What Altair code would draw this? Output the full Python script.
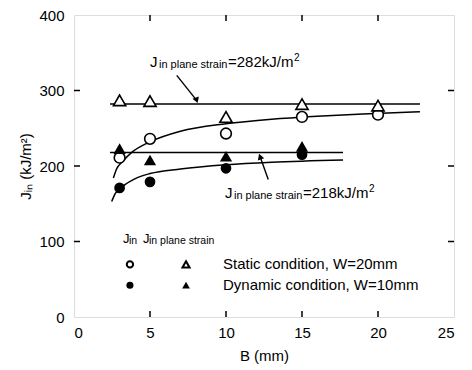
import altair as alt
import pandas as pd

FONT = "Liberation Sans"

# ---- data ----
B_static_tri = [3, 5, 10, 15, 20]
J_static_tri = [287, 286, 265, 282, 280]
B_static_cir = [3, 5, 10, 15, 20]
J_static_cir = [211, 236, 243, 265, 268]
B_dyn_tri = [3, 5, 10, 15]
J_dyn_tri = [223, 208, 213, 226]
B_dyn_cir = [3, 5, 10, 15]
J_dyn_cir = [171, 179, 197, 215]

static_fit_B = [2.59, 2.8, 3.2, 3.8, 5, 7, 10, 13, 16, 19, 22.76]
static_fit_J = [184, 196, 206, 218, 232, 246, 256, 262, 266, 269, 272]
dyn_fit_B = [2.48, 2.7, 3.2, 4, 5, 7, 10, 13, 17.7]
dyn_fit_J = [153, 163, 173, 183, 190, 196, 201.6, 205, 208]

plane_strain_J = [282, 218]
plane_strain_B_start = [2.37, 2.37]
plane_strain_B_end = [22.76, 17.7]

x_ticks = [5, 10, 15, 20]
y_ticks = [100, 200, 300]

ann_B = [5.0, 9.93]
ann_J = [331.6, 157.2]
ann_main = ["=282kJ/m", "=218kJ/m"]

arrow_B0 = [6.76, 12.78]
arrow_J0 = [320, 182]
arrow_B1 = [8.07, 12.24]
arrow_J1 = [287, 212.5]

leg_head_B = [3.22, 4.54]
leg_head_sub = ["in", "in plane strain"]
leg_head_J = 97.4
leg_rows_J = [69.7, 42.1]
leg_rows_text = ["Static condition, W=20mm", "Dynamic condition, W=10mm"]
leg_cir_B = 3.68
leg_tri_B = 7.37
leg_text_B = 9.8

W, H = 380, 302

xs = alt.Scale(domain=[0, 25], nice=False, zero=False)
ys = alt.Scale(domain=[0, 400], nice=False, zero=False)
xax = alt.Axis(values=[0, 5, 10, 15, 20, 25], title="B (mm)", grid=False, ticks=False,
               domain=False, labelPadding=8, titlePadding=8, labelFontSize=15,
               titleFontSize=15, labelFont=FONT, titleFont=FONT, labelColor="black",
               titleColor="black", titleFontWeight="normal")
yax = alt.Axis(values=[0, 100, 200, 300, 400], title="Jᵢₙ (kJ/m²)", grid=False, ticks=False,
               domain=False, labelPadding=10, titlePadding=5, labelFontSize=15,
               titleFontSize=15, labelFont=FONT, titleFont=FONT, labelColor="black",
               titleColor="black", titleFontWeight="normal")


def X(f="B"):
    return alt.X(f"{f}:Q", scale=xs, axis=xax)


def Y(f="J"):
    return alt.Y(f"{f}:Q", scale=ys, axis=yax)


layers = []

# plane strain lines
ps = pd.DataFrame({"B": plane_strain_B_start, "B2": plane_strain_B_end, "J": plane_strain_J})
layers.append(alt.Chart(ps).mark_rule(color="black", strokeWidth=1.5).encode(
    x=X(), x2="B2:Q", y=Y()))

# fitted curves
sf = pd.DataFrame({"B": static_fit_B, "J": static_fit_J})
df = pd.DataFrame({"B": dyn_fit_B, "J": dyn_fit_J})
for d in (sf, df):
    layers.append(alt.Chart(d).mark_line(color="black", strokeWidth=1.5, interpolate="monotone").encode(
        x=X(), y=Y()))

# data points
layers.append(alt.Chart(pd.DataFrame({"B": B_static_cir, "J": J_static_cir})).mark_point(
    shape="circle", size=115, filled=True, fill="white", stroke="black", strokeWidth=1.6, opacity=1).encode(
    x=X(), y=Y()))
layers.append(alt.Chart(pd.DataFrame({"B": B_static_tri, "J": J_static_tri})).mark_point(
    shape="triangle-up", size=150, filled=True, fill="white", stroke="black", strokeWidth=1.6, opacity=1).encode(
    x=X(), y=Y()))
layers.append(alt.Chart(pd.DataFrame({"B": B_dyn_cir, "J": J_dyn_cir})).mark_point(
    shape="circle", size=115, filled=True, color="black", opacity=1).encode(
    x=X(), y=Y()))
layers.append(alt.Chart(pd.DataFrame({"B": B_dyn_tri, "J": J_dyn_tri})).mark_point(
    shape="triangle-up", size=150, filled=True, color="black", opacity=1).encode(
    x=X(), y=Y()))

# arrows
ar = pd.DataFrame({"B": arrow_B0, "J": arrow_J0, "B2": arrow_B1, "J2": arrow_J1})
layers.append(alt.Chart(ar).mark_rule(color="black", strokeWidth=1.4).encode(
    x=X(), y=Y(), x2="B2:Q", y2="J2:Q"))
layers.append(alt.Chart(pd.DataFrame({"B": [arrow_B1[0]], "J": [arrow_J1[0]]})).mark_point(
    shape="triangle-down", size=45, filled=True, color="black", opacity=1, angle=340).encode(
    x=X(), y=Y()))
layers.append(alt.Chart(pd.DataFrame({"B": [arrow_B1[1]], "J": [arrow_J1[1]]})).mark_point(
    shape="triangle-up", size=45, filled=True, color="black", opacity=1, angle=340).encode(
    x=X(), y=Y()))

# annotation texts
ann = pd.DataFrame({"B": ann_B, "J": ann_J, "main": ann_main})
tbase = dict(font=FONT, color="black", align="left", baseline="alphabetic")
layers.append(alt.Chart(ann).mark_text(text="J", fontSize=15, dx=0, **tbase).encode(x=X(), y=Y()))
layers.append(alt.Chart(ann).mark_text(text="in plane strain", fontSize=11, dx=9, dy=1, **tbase).encode(x=X(), y=Y()))
layers.append(alt.Chart(ann).mark_text(fontSize=15, dx=78, **tbase).encode(x=X(), y=Y(), text="main:N"))
layers.append(alt.Chart(ann).mark_text(text="2", fontSize=10, dx=144, dy=-6, **tbase).encode(x=X(), y=Y()))

# legend header
lh = pd.DataFrame({"B": leg_head_B, "J": [leg_head_J] * 2, "sub": leg_head_sub})
layers.append(alt.Chart(lh).mark_text(text="J", fontSize=13, **tbase).encode(x=X(), y=Y()))
layers.append(alt.Chart(lh).mark_text(fontSize=10.5, dx=6, dy=1, **tbase).encode(x=X(), y=Y(), text="sub:N"))

# legend markers
layers.append(alt.Chart(pd.DataFrame({"B": [leg_cir_B], "J": [leg_rows_J[0]]})).mark_point(
    shape="circle", size=40, filled=True, fill="white", stroke="black", strokeWidth=2, opacity=1).encode(x=X(), y=Y()))
layers.append(alt.Chart(pd.DataFrame({"B": [leg_tri_B], "J": [leg_rows_J[0]]})).mark_point(
    shape="triangle-up", size=50, filled=True, fill="white", stroke="black", strokeWidth=2, opacity=1).encode(x=X(), y=Y()))
layers.append(alt.Chart(pd.DataFrame({"B": [leg_cir_B], "J": [leg_rows_J[1]]})).mark_point(
    shape="circle", size=50, filled=True, color="black", opacity=1).encode(x=X(), y=Y()))
layers.append(alt.Chart(pd.DataFrame({"B": [leg_tri_B], "J": [leg_rows_J[1]]})).mark_point(
    shape="triangle-up", size=60, filled=True, color="black", opacity=1).encode(x=X(), y=Y()))
lt = pd.DataFrame({"B": [leg_text_B] * 2, "J": leg_rows_J, "t": leg_rows_text})
layers.append(alt.Chart(lt).mark_text(fontSize=15, font=FONT, color="black", align="left", baseline="middle").encode(
    x=X(), y=Y(), text="t:N"))

# inward ticks on all four sides
xt = pd.DataFrame({"B": x_ticks})
yt = pd.DataFrame({"J": y_ticks})
layers.append(alt.Chart(yt).mark_rule(color="black", strokeWidth=1.5).encode(
    y=Y(), x=alt.value(0), x2=alt.value(6)))
layers.append(alt.Chart(yt).mark_rule(color="black", strokeWidth=1.5).encode(
    y=Y(), x=alt.value(W - 6), x2=alt.value(W)))
layers.append(alt.Chart(xt).mark_rule(color="black", strokeWidth=1.5).encode(
    x=X(), y=alt.value(0), y2=alt.value(6)))
layers.append(alt.Chart(xt).mark_rule(color="black", strokeWidth=1.5).encode(
    x=X(), y=alt.value(H - 6), y2=alt.value(H)))

chart = alt.layer(*layers).properties(
    width=W, height=H,
    autosize=alt.AutoSizeParams(type="none"),
    padding={"left": 66, "top": 7, "right": 10, "bottom": 50},
).configure_view(stroke="black", strokeWidth=1.8).configure(background="white")

chart.save("out.html", embed_options={"renderer": "svg", "actions": False})
